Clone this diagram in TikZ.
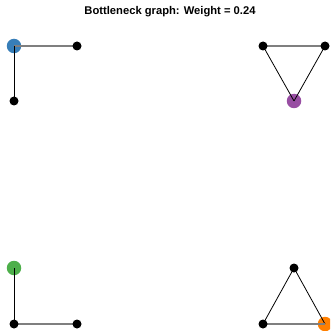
\documentclass[tikz,border=0pt]{standalone}
\usepackage{fontspec}
\setmainfont{Liberation Sans}
\definecolor{sblue}{HTML}{377EB8}
\definecolor{spurple}{HTML}{984EA3}
\definecolor{sgreen}{HTML}{4DAF4A}
\definecolor{sorange}{HTML}{FF7F00}
\definecolor{edgegray}{HTML}{7F7F7F}
\tikzset{
  x=1pt, y=-1pt,
  hub/.style={circle, fill=#1, inner sep=0pt, minimum size=14.5pt},
  vtx/.style={circle, fill=black, inner sep=0pt, minimum size=9pt},
  strong/.style={draw=black, line width=0.8pt},
  weak/.style={draw=edgegray, line width=1.1pt},
}
\begin{document}
\begin{tikzpicture}
\useasboundingbox (0,0) rectangle (330,331);
\clip (0,0) rectangle (330,331);
\node[font=\bfseries\fontsize{11.2}{13}\selectfont] (title) at (170,12) {Bottleneck graph: Weight = 0.24};

% coloured hubs
\node[hub=sblue] (a1) at (14,46) {};
\node[hub=spurple] (b3) at (294,101) {};
\node[hub=sgreen] (c1) at (14,268) {};
\node[hub=sorange] (d3) at (325,324) {};

% black vertices (placed as coordinates first, drawn after edges)
\coordinate (a2) at (77,46);
\coordinate (a3) at (14,101);
\coordinate (b1) at (263,46);
\coordinate (b2) at (325,46);
\coordinate (c2) at (14,324);
\coordinate (c3) at (77,324);
\coordinate (d1) at (294,268);
\coordinate (d2) at (263,324);

% edges
\draw[weak] (a1.center) -- (a2);
\draw[strong] (a1.center) -- (a3);
\draw[weak] (b1) -- (b2);
\draw[strong] (b1) -- (b3.center);
\draw[strong] (b2) -- (b3.center);
\draw[strong] (c1.center) -- (c2);
\draw[weak] (c2) -- (c3);
\draw[strong] (d1) -- (d2);
\draw[strong] (d1) -- (d3.center);
\draw[weak] (d2) -- (d3.center);

\foreach \p in {a2,a3,b1,b2,c2,c3,d1,d2}
  \node[vtx] at (\p) {};
\end{tikzpicture}
\end{document}
